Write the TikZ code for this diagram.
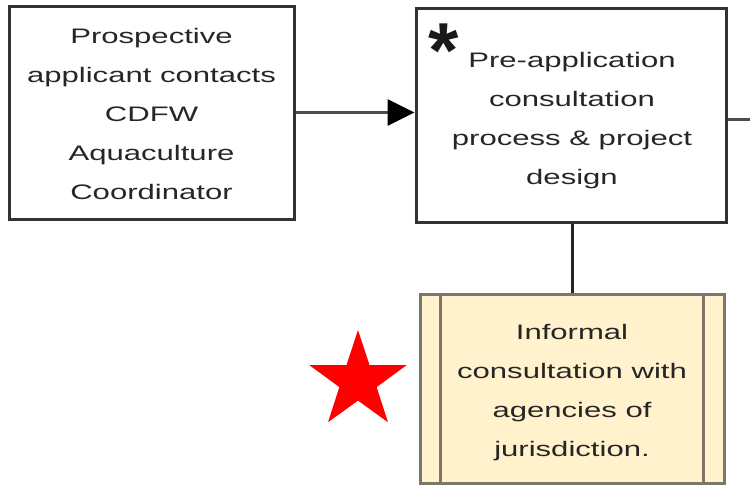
\documentclass[tikz,border=0pt]{standalone}
\usepackage{fontspec}
\setmainfont{Liberation Sans}[FakeStretch=1.48]
\newfontfamily\astfont{Liberation Sans}
\usetikzlibrary{arrows.meta,shapes.geometric}
\definecolor{txt}{HTML}{262626}
\definecolor{boxline}{HTML}{333333}
\definecolor{procfill}{HTML}{FFF2CC}
\definecolor{procline}{HTML}{7D776A}
\tikzset{
  lbl/.style={font=\fontsize{21}{39}\selectfont, text=txt, align=center, inner sep=0pt},
  stepbox/.style={draw=boxline, line width=3pt, fill=white, inner sep=0pt},
  procbox/.style={draw=procline, line width=3pt, fill=procfill, inner sep=0pt},
  conn/.style={line width=3pt, draw=boxline}
}
\begin{document}
\begin{tikzpicture}[x=1pt,y=-1pt]
\useasboundingbox (0,0) rectangle (750,485);
% boxes
\node[stepbox, minimum width=285pt, minimum height=213pt] (b1) at (151.5,112.5) {};
\node[stepbox, minimum width=310pt, minimum height=214pt] (b2) at (571,115) {};
\node[procbox, minimum width=304pt, minimum height=189pt] (b3) at (572,388.5) {};
\draw[procline, line width=3pt] ([xshift=22pt]b3.north west) -- ([xshift=22pt]b3.south west);
\draw[procline, line width=3pt] ([xshift=-22pt]b3.north east) -- ([xshift=-22pt]b3.south east);
% texts
\node[lbl] (t1) at (151.5,113.5) {Prospective\\applicant contacts\\CDFW\\Aquaculture\\Coordinator};
\node[lbl] (t2) at (572,121) {Pre-application\\consultation\\process \& project\\design};
\node[lbl] (t3) at (572,393) {Informal\\consultation with\\agencies of\\jurisdiction.};
\node[font=\astfont\bfseries\fontsize{78}{78}\selectfont, text=black!90, inner sep=0pt, anchor=center] (ast) at (444,51) {*};
% star
\node[star, star points=5, star point ratio=2.6, fill=red, minimum size=102pt, inner sep=0pt] (redstar) at (358,381) {};
% connectors
\coordinate (offR) at (750,119);
\draw[conn, draw=gray!60!black, -{Triangle[length=27pt,width=26pt,color=black]}] (b1.east) -- (b1.east -| b2.west);
\draw[conn, draw=gray!60!black] (b2.east |- offR) -- (offR);
\draw[conn, draw=black!85] (b3.north) -- (b3.north |- b2.south);
\end{tikzpicture}
\end{document}
